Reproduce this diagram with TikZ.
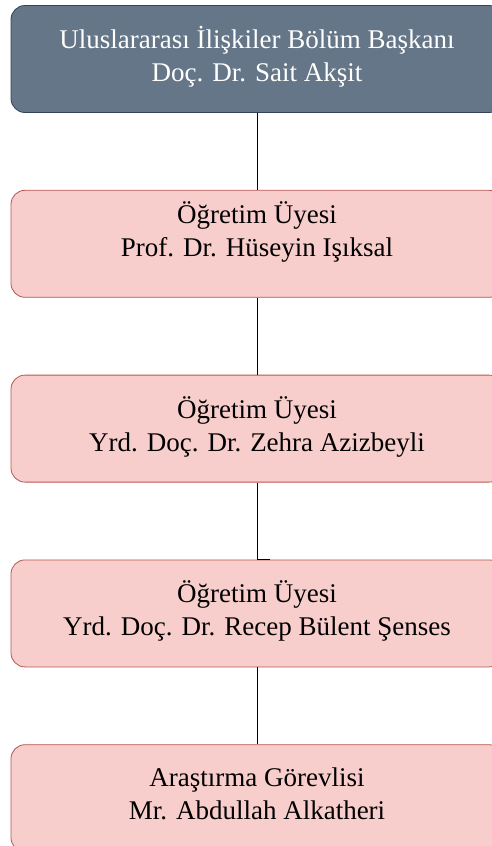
\documentclass[tikz,border=0pt]{standalone}
\usepackage{fontspec}
\setmainfont{Liberation Serif}
\usetikzlibrary{positioning}

\definecolor{headfill}{HTML}{647687}
\definecolor{headline}{HTML}{314354}
\definecolor{staffill}{HTML}{F8CECC}
\definecolor{staffline}{HTML}{B85450}

\begin{document}
\begin{tikzpicture}[x=1pt,y=1pt,
  node distance=77pt,
  unitbox/.style={rectangle, rounded corners=14pt, line width=0.8pt,
    minimum width=492pt, minimum height=107pt, align=center,
    font=\fontsize{27}{33}\selectfont,
    execute at begin node=\strut, execute at end node=\strut},
  headbox/.style={unitbox, fill=headfill, draw=headline, text=white},
  staffbox/.style={unitbox, fill=staffill, draw=staffline},
  lifted/.style={execute at end node={\rule[-30pt]{0pt}{30pt}}},
  link/.style={draw=black, line width=0.8pt}]

\useasboundingbox (0,0) rectangle (492,-846);

\node[headbox] (head) at (257,-59) {Uluslararası İlişkiler Bölüm Başkanı\\Doç. Dr. Sait Akşit};
\node[staffbox, lifted, below=of head] (isiksal) {Öğretim Üyesi\\Prof. Dr. Hüseyin Işıksal};
\node[staffbox, below=of isiksal] (azizbeyli) {Öğretim Üyesi\\Yrd. Doç. Dr. Zehra Azizbeyli};
\node[staffbox, below=of azizbeyli] (senses) {Öğretim Üyesi\\Yrd. Doç. Dr. Recep Bülent Şenses};
\node[staffbox, below=of senses] (alkatheri) {Araştırma Görevlisi\\Mr. Abdullah Alkatheri};

% connectors
\coordinate (jog) at (270,0);
\draw[link] (head) -- (isiksal);
\draw[link] (isiksal) -- (azizbeyli);
\draw[link] (azizbeyli.south) |- (senses.north -| jog);
\draw[link] (senses) -- (alkatheri);

\end{tikzpicture}
\end{document}
